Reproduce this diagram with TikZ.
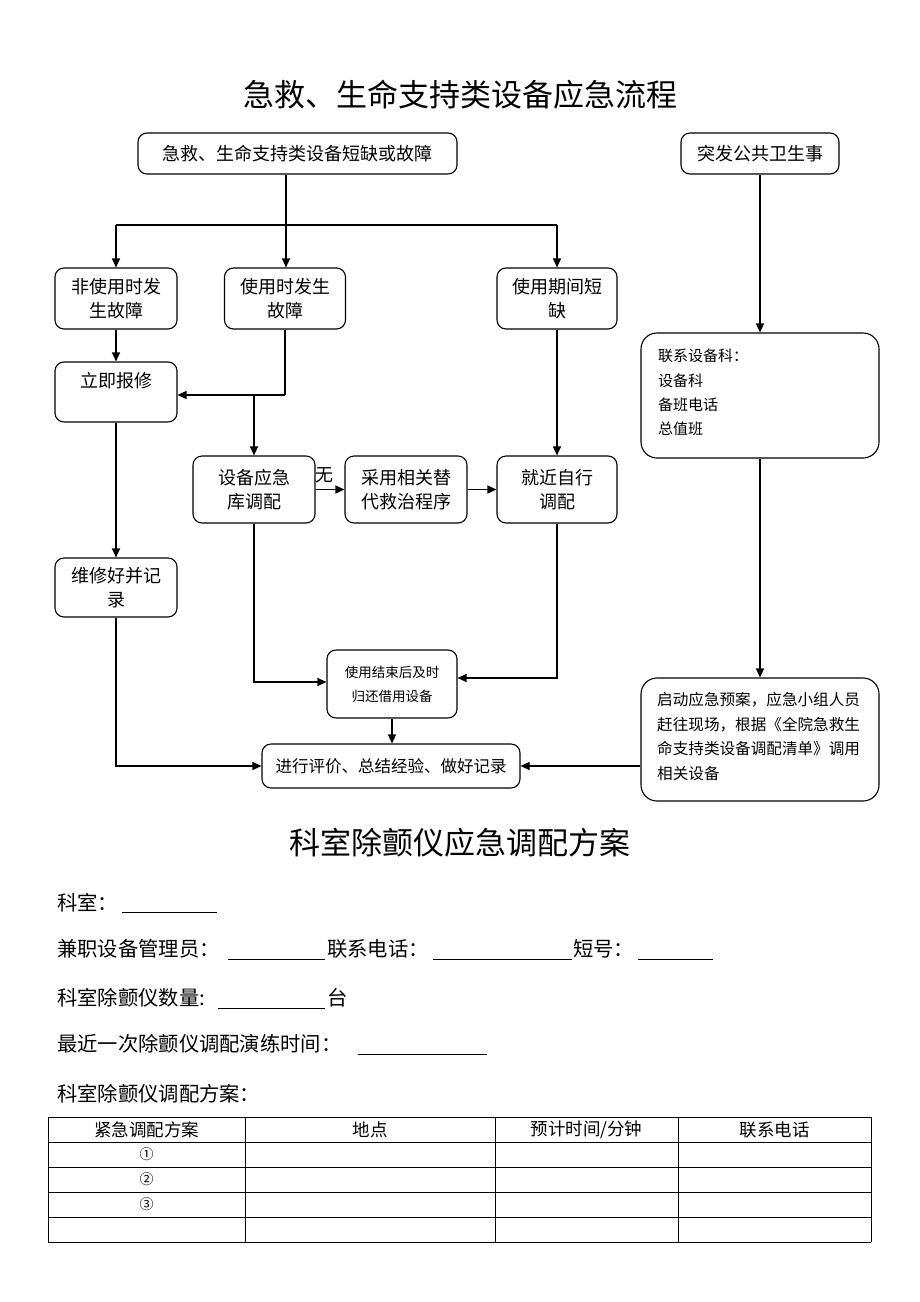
\documentclass[tikz,border=0pt]{standalone}
\usepackage{fontspec}
\setmainfont{Noto Sans CJK SC}
\usetikzlibrary{arrows.meta,calc}
\begin{document}
\begin{tikzpicture}[x=1pt,y=-1pt,
  box/.style={draw,line width=1.1pt,rounded corners=9pt,inner sep=0pt,align=center,
    font=\fontsize{18}{24}\selectfont},
  lbox/.style={draw,line width=1.1pt,rounded corners=16pt,inner sep=0pt},
  ln/.style={line width=1.1pt},
  arr/.style={line width=1.1pt,-{Triangle[length=9pt,width=8pt]}},
  ttl/.style={font=\fontsize{31}{36}\selectfont},
  frm/.style={anchor=base west,inner sep=0pt,font=\fontsize{20.3}{24}\selectfont},
  ul/.style={line width=0.9pt},
  th/.style={font=\fontsize{17.5}{20}\selectfont,inner sep=0pt},
  tl/.style={line width=0.8pt}
]
\useasboundingbox[fill=white] (0,0) rectangle (920,1302);

% titles
\node[ttl] (t1) at (460,95) {急救、生命支持类设备应急流程};
\node[ttl] (t2) at (460,843) {科室除颤仪应急调配方案};

% top boxes
\node[box,minimum width=319,minimum height=41] (A) at (297.5,153.5) {急救、生命支持类设备短缺或故障};
\node[box,minimum width=158,minimum height=41] (B) at (760,153.5) {突发公共卫生事};

\node[box,minimum width=122,minimum height=61] (C) at (116,298.5) {非使用时发\\生故障};
\node[box,minimum width=121,minimum height=61] (D) at (285,298.5) {使用时发生\\故障};
\node[box,minimum width=120,minimum height=61] (E) at (557,298.5) {使用期间短\\缺};

\node[box,minimum width=122,minimum height=60] (F) at (116,392) {立即报修\\~};

\node[box,minimum width=122,minimum height=67] (G) at (254,489.5) {设备应急\\库调配};
\node[box,minimum width=122,minimum height=67] (H) at (406,489.5) {采用相关替\\代救治程序};
\node[box,minimum width=120,minimum height=67] (I) at (557,489.5) {就近自行\\调配};

\node[box,minimum width=122,minimum height=59] (J) at (116,587.5) {维修好并记\\录};

\node[box,minimum width=130,minimum height=68,font=\fontsize{13.5}{24}\selectfont] (K) at (392,684) {使用结束后及时\\归还借用设备};

\node[box,minimum width=258,minimum height=44,font=\fontsize{16.5}{20}\selectfont] (L) at (391,766) {进行评价、总结经验、做好记录};

\node[lbox,minimum width=238,minimum height=125] (M) at (760,395.5) {};
\node[anchor=north west,inner sep=0pt,align=left,font=\fontsize{15}{24.2}\selectfont] (Mt) at (658,349) {联系设备科：\\设备科\\备班电话\\总值班};

\node[lbox,minimum width=238,minimum height=123] (N) at (760,739.5) {};
\node[anchor=north west,inner sep=0pt,align=left,font=\fontsize{15.6}{24.6}\selectfont] (Nt) at (657,692) {启动应急预案，应急小组人员\\赶往现场，根据《全院急救生\\命支持类设备调配清单》调用\\相关设备};

% connectors
\coordinate (jA) at (286,225);
\coordinate (jL) at (116,225);
\coordinate (jR) at (557,225);
\draw[ln] (A.south -| jA) -- (jA);
\draw[ln] (jL) -- (jR);
\draw[arr] (jL) -- (C.north);
\draw[arr] (jA) -- (D.north -| jA);
\draw[arr] (jR) -- (E.north);

\draw[arr] (C.south) -- (F.north);
\coordinate (jD) at (285,395);
\coordinate (jG) at (254,395);
\draw[ln] (D.south) -- (jD);
\draw[arr] (jD) -- (jD -| F.east);
\draw[arr] (jG) -- (G.north);

\draw[arr] (G.east) -- node[above,pos=0.3,inner sep=6pt,font=\fontsize{18}{20}\selectfont] (wu) {无} (H.west);
\draw[arr] (H.east) -- (I.west);
\draw[arr] (E.south) -- (I.north);

\draw[arr] (F.south) -- (J.north);
\draw[arr] (G.south) |- ([yshift=2pt]K.west);
\draw[arr] (I.south) |- ([yshift=6pt]K.east);
\draw[arr] (K.south) -- (K.south |- L.north);
\draw[arr] (J.south) |- (L.west);
\draw[arr] (N.west |- L.east) -- (L.east);

\draw[arr] (B.south) -- (M.north);
\draw[arr] (M.south) -- (N.north);

% form
\node[frm] (f1) at (57,910) {科室：};
\draw[ul] (122,912) -- (217,912);
\node[frm] (f2) at (57,956) {兼职设备管理员：};
\draw[ul] (228,959) -- (325,959);
\node[frm] (f3) at (327,956) {联系电话：};
\draw[ul] (433,959) -- (572,959);
\node[frm] (f4) at (573,956) {短号：};
\draw[ul] (638,959) -- (713,959);
\node[frm] (f5) at (57,1005) {科室除颤仪数量:};
\draw[ul] (218,1008) -- (325,1008);
\node[frm] (f6) at (327,1005) {台};
\node[frm] (f7) at (57,1051) {最近一次除颤仪调配演练时间：};
\draw[ul] (358,1054) -- (487,1054);
\node[frm] (f8) at (57,1101) {科室除颤仪调配方案：};

% table
\foreach \yy in {1117,1142,1167,1192,1217,1242} \draw[tl] (48,\yy) -- (871,\yy);
\foreach \xx in {48,245,495,678,871} \draw[tl] (\xx,1117) -- (\xx,1242);
\node[th] (h1) at (146.5,1129.5) {紧急调配方案};
\node[th] (h2) at (370,1129.5) {地点};
\node[th] (h3) at (586.5,1129.5) {预计时间/分钟};
\node[th] (h4) at (774.5,1129.5) {联系电话};
\node[th,font=\fontsize{14}{15}\selectfont] (r1) at (146.5,1154.5) {①};
\node[th,font=\fontsize{14}{15}\selectfont] (r2) at (146.5,1179.5) {②};
\node[th,font=\fontsize{14}{15}\selectfont] (r3) at (146.5,1204.5) {③};
\end{tikzpicture}
\end{document}
